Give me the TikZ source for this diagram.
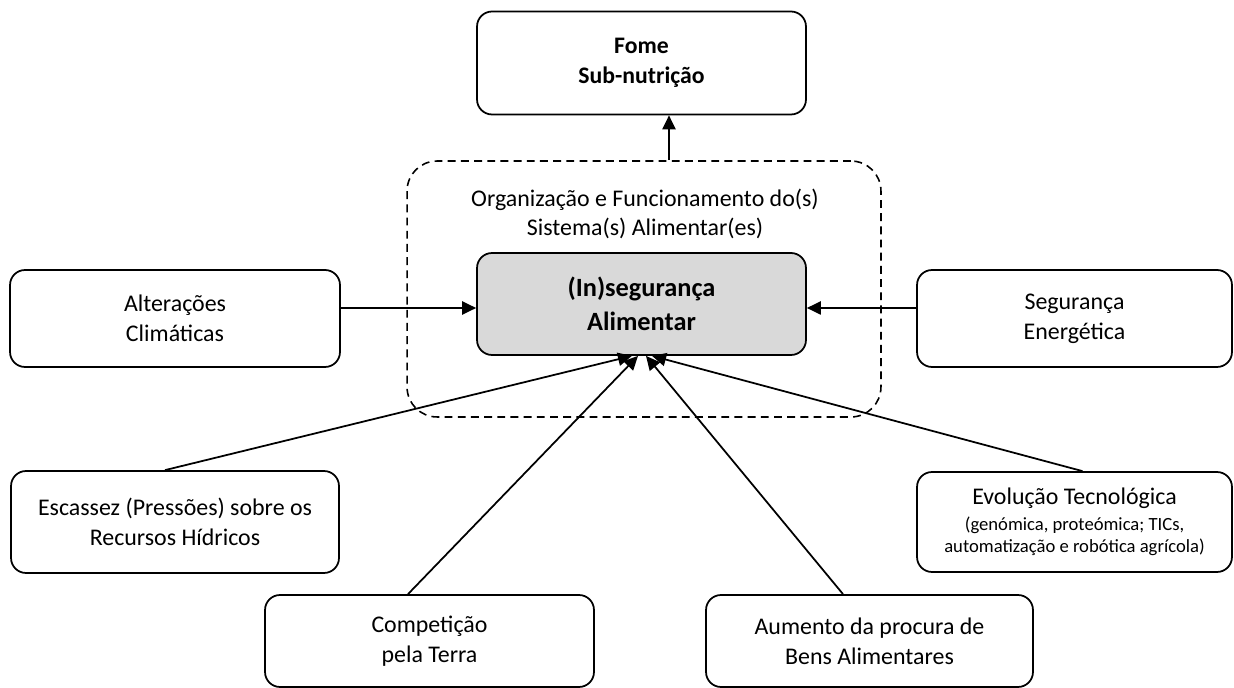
\documentclass[tikz,border=0pt]{standalone}
\usepackage{fontspec}
\setmainfont{Carlito}
\usetikzlibrary{positioning,arrows.meta}

\definecolor{coregray}{HTML}{D9D9D9}

\begin{document}
\begin{tikzpicture}[x=0.02cm, y=-0.02cm, >={Triangle[length=8pt,width=7.5pt]},
  every factor/.style={draw, line width=1pt, rounded corners=0.3cm, align=center,
    inner sep=0pt, font=\fontsize{13.6}{17}\selectfont},
  factor/.style={every factor, minimum width=#1},
  system/.style={draw, line width=0.9pt, dash pattern=on 4.5pt off 3pt,
    rounded corners=0.6cm, minimum width=9.48cm, minimum height=5.12cm}]

\useasboundingbox (0,0) rectangle (1234,688);

% dashed frame and its label
\node [system] (sys) at (644,289) {};
\node [align=center, font=\fontsize{13.6}{16.5}\selectfont] (syslabel) at (645,214)
  {Organização e Funcionamento do(s)\\Sistema(s) Alimentar(es)};

% centre and outcome
\node [factor=6.58cm, minimum height=2.04cm, fill=coregray,
  font=\bfseries\fontsize{15}{19}\selectfont] (core) at (641.5,304)
  {(In)segurança\\Alimentar};
\node [factor=6.58cm, minimum height=2.06cm,
  font=\bfseries\fontsize{13.5}{17}\selectfont] (fome) at (641.5,63)
  {Fome\\Sub-nutrição};

% drivers
\node [factor=6.6cm, minimum height=1.94cm] (alt) at (175,318.5)
  {Alterações\\Climáticas};
\node [factor=6.3cm, minimum height=1.94cm] (seg) at (1074.5,318.5)
  {Segurança\\Energética};
\node [factor=6.56cm, minimum height=2.04cm] (esc) at (175,522)
  {Escassez (Pressões) sobre os\\Recursos Hídricos};
\node [factor=6.58cm, minimum height=1.84cm] (comp) at (429.5,641)
  {Competição\\pela Terra};
\node [factor=6.54cm, minimum height=1.84cm] (aum) at (869.5,641)
  {Aumento da procura de\\Bens Alimentares};
\node [factor=6.3cm, minimum height=2cm] (evo) at (1074.5,522)
  {Evolução Tecnológica\\[-2pt]\fontsize{10.6}{12}\selectfont (genómica, proteómica; TICs,\\[-4.5pt]\fontsize{10.6}{12}\selectfont automatização e robótica agrícola)};

% connectors
\coordinate (in-left) at ([yshift=-0.08cm]core.west);
\coordinate (in-right) at ([yshift=-0.08cm]core.east);
\draw [->, line width=1pt] (alt.east |- in-left) -- (in-left);
\draw [->, line width=1pt] (seg.west |- in-right) -- (in-right);

\draw [->, line width=1pt] ([xshift=0.5cm]sys.north) -- ([xshift=0.5cm]sys.north |- fome.south);

\foreach \n/\s/\t in {esc/-0.2/-0.19, comp/-0.43/-0.07, aum/-0.53/0.09, evo/0.16/0.21}
  \draw [->, line width=1pt] ([xshift=\s cm]\n.north) -- ([xshift=\t cm]core.south);

\end{tikzpicture}
\end{document}
